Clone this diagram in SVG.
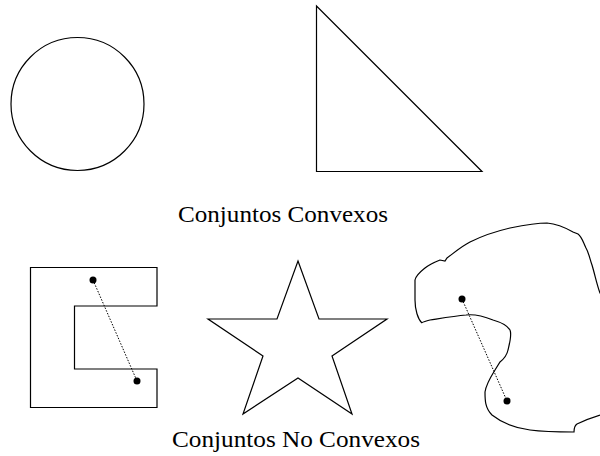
<svg xmlns="http://www.w3.org/2000/svg" width="600" height="456" viewBox="0 0 600 456">
<style>
.s{fill:none;stroke:#000;stroke-width:1.2;stroke-linejoin:miter}
.d{fill:none;stroke:#000;stroke-width:1;stroke-dasharray:1.5 1.5}
.p{fill:#000}
.t{font-family:"Liberation Serif","Times New Roman",serif;font-size:23px;fill:#000}
</style>
<rect width="600" height="456" fill="#fff"/>
<g id="circle"><circle class="s" cx="77.5" cy="104" r="66.5"/></g>
<g id="triangle"><polygon class="s" points="316.5,6 316.5,171.5 482,171.5"/></g>
<g id="label-convex"><text class="t" x="178" y="222" textLength="210" lengthAdjust="spacingAndGlyphs">Conjuntos Convexos</text></g>
<g id="c-shape">
<polygon class="s" points="30.5,267.5 157,267.5 157,306 74.5,306 74.5,369 157,369 157,407.5 30.5,407.5"/>
<line class="d" x1="93" y1="280" x2="137" y2="381"/>
<circle class="p" cx="93" cy="280" r="3.5"/>
<circle class="p" cx="137" cy="381" r="3.5"/>
</g>
<g id="star"><polygon class="s" points="298,261 319,319 387,319 332,356 352,414 298,378 243,414 263,356 208,319 277,319"/></g>
<g id="blob">
<path class="s" d="M421.7,322.7 C418,319 415,310 415,300 L415,280 C416,275 420,272 425,268 C430,264 435,262 440,260 L445,261 L447,258 C455,252 462,246 470,242 C480,237 493,232 510,228 C525,225 537,223 547,223 C558,224 566,228 573,232 L578,234 C582,237 583,242 586,248 C589,253 590,260 592,265 C595,275 597,285 600,293 L610,300 L610,410 L600,415 C590,418 583,421 577,424 C574,426 574,430 574,432 C560,432 545,432 530,430 C515,428 502,423 492,415 C485,408 485,400 485,392 C486,385 490,378 495,370 L500,362 C505,358 507,355 508,350 C510,342 512,335 510,330 C507,325 500,322 493,320 C483,316 474,314 466,315 C455,316 443,318 430,320 C426,321 423,322 421.7,322.7 Z"/>
<line class="d" x1="462" y1="299" x2="507" y2="401"/>
<circle class="p" cx="462" cy="299" r="3.5"/>
<circle class="p" cx="507" cy="401" r="3.5"/>
</g>
<g id="label-nonconvex"><text class="t" x="172" y="447" textLength="248" lengthAdjust="spacingAndGlyphs">Conjuntos No Convexos</text></g>
</svg>
